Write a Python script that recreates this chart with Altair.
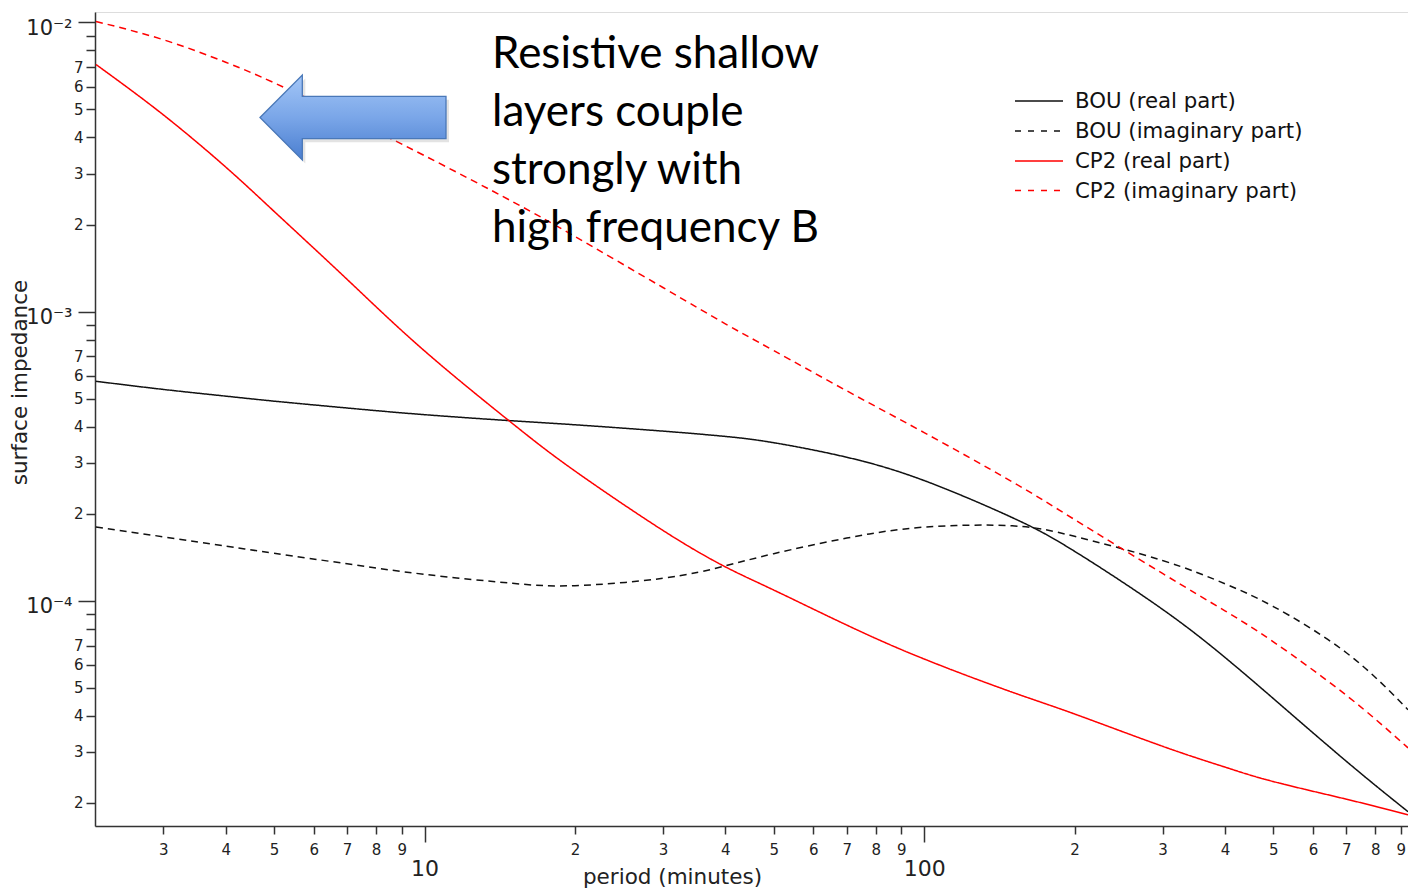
import altair as alt
import pandas as pd

# ---------------- data ----------------
periods = [2.2, 3, 4, 5, 7, 10, 15, 20, 30, 40, 50, 70, 100, 150, 200, 300, 400, 500, 700, 930]
bou_real = [5.74e-4, 5.38e-4, 5.10e-4, 4.90e-4, 4.64e-4, 4.40e-4, 4.19e-4, 4.06e-4, 3.86e-4, 3.70e-4,
            3.52e-4, 3.135e-4, 2.604e-4, 1.94e-4, 1.483e-4, 9.34e-5, 6.37e-5, 4.59e-5, 2.785e-5, 1.865e-5]
bou_imag = [1.80e-4, 1.664e-4, 1.546e-4, 1.459e-4, 1.342e-4, 1.234e-4, 1.149e-4, 1.128e-4, 1.196e-4, 1.32e-4,
            1.455e-4, 1.647e-4, 1.797e-4, 1.816e-4, 1.67e-4, 1.378e-4, 1.145e-4, 9.55e-5, 6.61e-5, 4.20e-5]
cp2_real = [7.15e-3, 4.79e-3, 3.16e-3, 2.22e-3, 1.292e-3, 7.31e-4, 4.10e-4, 2.81e-4, 1.751e-4, 1.31e-4,
            1.089e-4, 8.24e-5, 6.29e-5, 4.83e-5, 4.06e-5, 3.14e-5, 2.66e-5, 2.37e-5, 2.06e-5, 1.82e-5]
cp2_imag = [1.007e-2, 8.71e-3, 7.28e-3, 6.18e-3, 4.70e-3, 3.46e-3, 2.40e-3, 1.818e-3, 1.211e-3, 9.07e-4,
            7.33e-4, 5.32e-4, 3.815e-4, 2.58e-4, 1.909e-4, 1.243e-4, 9.23e-5, 7.21e-5, 4.71e-5, 3.10e-5]

series_names = ["BOU (real part)", "BOU (imaginary part)", "CP2 (real part)", "CP2 (imaginary part)"]
series_colors = ["#111111", "#111111", "#ff0000", "#ff0000"]
series_dashes = [[1, 0], [7, 5], [1, 0], [7, 5]]
legend_dashes = [[1, 0], [6, 7], [1, 0], [6, 7]]

x_tick_values = [3, 4, 5, 6, 7, 8, 9, 10, 20, 30, 40, 50, 60, 70, 80, 90,
                 100, 200, 300, 400, 500, 600, 700, 800, 900]
x_tick_labels = ["3", "4", "5", "6", "7", "8", "9", "10", "2", "3", "4", "5", "6", "7", "8", "9",
                 "100", "2", "3", "4", "5", "6", "7", "8", "9"]
x_major = [10, 100]

y_tick_values = [2e-5, 3e-5, 4e-5, 5e-5, 6e-5, 7e-5, 8e-5, 9e-5,
                 1e-4, 2e-4, 3e-4, 4e-4, 5e-4, 6e-4, 7e-4, 8e-4, 9e-4,
                 1e-3, 2e-3, 3e-3, 4e-3, 5e-3, 6e-3, 7e-3, 8e-3, 9e-3, 1e-2]
y_major_labels = ["10⁻⁵", "10⁻⁴", "10⁻³", "10⁻²"]   # exponents -5 .. -2
y_minor_max_labelled = 7

annotation_lines = ["Resistive shallow", "layers couple", "strongly with", "high frequency B"]

# ---------------- build table ----------------
rows = []
for name, vals in zip(series_names, [bou_real, bou_imag, cp2_real, cp2_imag]):
    for p, v in zip(periods, vals):
        rows.append({"period": p, "value": v, "series": name})
df = pd.DataFrame(rows)

W, H = 1313, 814
FONT = "DejaVu Sans"

x_label_expr = "[" + ",".join("'" + s + "'" for s in x_tick_labels) + "][indexof([" + \
    ",".join(str(v) for v in x_tick_values) + "], datum.value)]"
x_major_test = "indexof([" + ",".join(str(v) for v in x_major) + "], datum.value) >= 0"

lg = "(log(datum.value)/LN10)"
y_major_test = f"abs({lg} - round({lg})) < 0.001"
digit = f"round(datum.value / pow(10, floor({lg} + 0.001)))"
y_label_expr = (f"{y_major_test} ? [" + ",".join("'" + s + "'" for s in y_major_labels) +
                f"][round({lg}) + 5] : ({digit} <= {y_minor_max_labelled} ? '' + {digit} : '')")

x_axis = alt.Axis(
    values=x_tick_values, labelExpr=x_label_expr, title="period (minutes)",
    grid=False, labelOverlap=False, labelFlush=False, labelBound=False,
    domainColor="#333333", domainWidth=1.5, tickColor="#333333", tickWidth=1.5,
    tickSize={"condition": {"test": x_major_test, "value": 16}, "value": 8},
    labelFontSize={"condition": {"test": x_major_test, "value": 22}, "value": 15},
    labelPadding={"condition": {"test": x_major_test, "value": 16}, "value": 8},
    labelFont=FONT, labelColor="#222222", labelBaseline="top",
    titleFont=FONT, titleFontSize=21.5, titleFontWeight="normal", titleColor="#222222",
    titleX=577, titleY=57, titleAlign="center", titleBaseline="alphabetic",
)
y_axis = alt.Axis(
    values=y_tick_values, labelExpr=y_label_expr, title="surface impedance",
    grid=False, labelOverlap=False, labelFlush=False, labelBound=False,
    domainColor="#333333", domainWidth=1.5, tickColor="#333333", tickWidth=1.5,
    tickSize={"condition": {"test": y_major_test, "value": 17}, "value": 9},
    labelFontSize={"condition": {"test": y_major_test, "value": 21}, "value": 15},
    labelPadding={"condition": {"test": y_major_test, "value": 6}, "value": 3},
    labelOffset={"condition": {"test": y_major_test, "value": 6}, "value": 0},
    labelFont=FONT, labelColor="#222222", labelBaseline="middle",
    titleFont=FONT, titleFontSize=21.5, titleFontWeight="normal", titleColor="#222222",
    titleX=-69, titleY=370, titleAngle=-90, titleAlign="center", titleBaseline="alphabetic",
)

lines = alt.Chart(df).mark_line(strokeWidth=1.5, clip=True, interpolate="natural").encode(
    x=alt.X("period:Q", scale=alt.Scale(type="log", domain=[2.19, 930], nice=False), axis=x_axis),
    y=alt.Y("value:Q", scale=alt.Scale(type="log", domain=[1.664e-5, 1.086e-2], nice=False), axis=y_axis),
    color=alt.Color("series:N", scale=alt.Scale(domain=series_names, range=series_colors), legend=None),
    strokeDash=alt.StrokeDash("series:N", scale=alt.Scale(domain=series_names, range=series_dashes), legend=None),
)

one = alt.Data(values=[{}])

arrow_path = ("M -1 0 L -0.545 -0.457 L -0.545 -0.228 L 1 -0.228 "
              "L 1 0.228 L -0.545 0.228 L -0.545 0.457 Z")
arrow_shadow = alt.Chart(one).mark_point(
    shape=arrow_path, size=186 ** 2, filled=True, color="#7f7f7f", opacity=0.22, strokeWidth=0
).encode(x=alt.value(261), y=alt.value(109))
arrow = alt.Chart(one).mark_point(
    shape=arrow_path, size=186 ** 2, filled=True, opacity=1,
    fill=alt.Gradient(gradient="linear", x1=0, y1=0, x2=0, y2=1,
                      stops=[alt.GradientStop(color="#a3c6f7", offset=0),
                             alt.GradientStop(color="#7aa6e8", offset=0.5),
                             alt.GradientStop(color="#4a7ed0", offset=1)]),
    stroke="#4a78b8", strokeWidth=1.3,
).encode(x=alt.value(258), y=alt.value(105.5))

annotation = alt.Chart(one).mark_text(
    text=annotation_lines, font="Lato", fontSize=44, lineHeight=58,
    align="left", baseline="alphabetic", color="#000000",
).encode(x=alt.value(397), y=alt.value(56))

legend_layers = []
row_y = [90, 120, 150, 179.5]
for name, col, dash, yy in zip(series_names, series_colors, legend_dashes, row_y):
    legend_layers.append(
        alt.Chart(one).mark_rule(color=col, strokeWidth=1.5, strokeDash=dash).encode(
            x=alt.value(920), x2=alt.value(968), y=alt.value(yy - 1)))
    legend_layers.append(
        alt.Chart(one).mark_text(text=name, font=FONT, fontSize=21.3, align="left",
                                 baseline="middle", color="#111111").encode(
            x=alt.value(980), y=alt.value(yy)))

chart = alt.layer(lines, arrow_shadow, arrow, annotation, *legend_layers).properties(
    width=W, height=H,
    padding={"left": 95, "top": 12, "right": 0, "bottom": 65},
    autosize=alt.AutoSizeParams(type="none"),
).configure_view(stroke=None).configure(background="white")

chart.save("out.html", embed_options={"renderer": "svg", "actions": False})
